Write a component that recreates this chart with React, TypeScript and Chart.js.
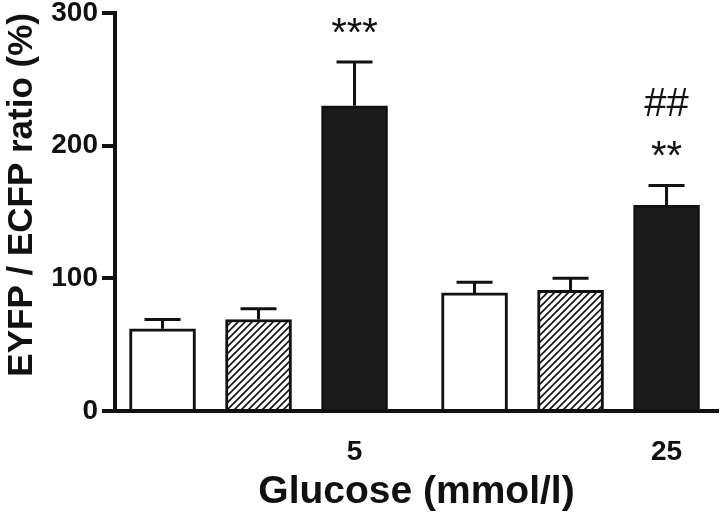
import React, { useEffect, useRef } from "react";
import { Chart, registerables } from "chart.js";

Chart.register(...registerables);

// ---- data ----
const groups = ["5", "25"];
const controlValues = [62, 89];
const controlErrors = [7, 8];
const hatchedValues = [69, 91];
const hatchedErrors = [8, 9];
const blackValues = [230, 155];
const blackErrors = [33, 15];
const blackStars = ["***", "**"];
const blackHashes = ["", "##"];
const yTicks = [0, 100, 200, 300];

// ---- layout / style ----
const GROUP_STRIDE = 3.25; // bar slots between group starts
const FONT = "Arial, 'Liberation Sans', Helvetica, sans-serif";
const INK = "#111111";
const BLACK_FILL = "#1b1b1b";

function makeHatch(): CanvasPattern | string {
  const size = 7;
  const c = document.createElement("canvas");
  c.width = size;
  c.height = size;
  const ctx = c.getContext("2d");
  if (!ctx) return "#ffffff";
  ctx.fillStyle = "#ffffff";
  ctx.fillRect(0, 0, size, size);
  ctx.strokeStyle = INK;
  ctx.lineWidth = 1.6;
  ctx.beginPath();
  ctx.moveTo(-1, size + 1);
  ctx.lineTo(size + 1, -1);
  ctx.moveTo(-2, 2);
  ctx.lineTo(2, -2);
  ctx.moveTo(size - 2, size + 2);
  ctx.lineTo(size + 2, size - 2);
  ctx.stroke();
  return ctx.createPattern(c, "repeat") || "#ffffff";
}

const toPoints = (vals: number[], series: number) =>
  vals.map((v, g) => ({ x: g * GROUP_STRIDE + series, y: v }));

const errorBarPlugin = {
  id: "errorBarsAndMarks",
  afterDatasetsDraw(chart: any) {
    const ctx = chart.ctx as CanvasRenderingContext2D;
    const yScale = chart.scales.y;
    chart.data.datasets.forEach((ds: any, di: number) => {
      const meta = chart.getDatasetMeta(di);
      meta.data.forEach((bar: any, i: number) => {
        const v = ds.data[i].y;
        const e = ds.errors[i];
        const top = yScale.getPixelForValue(v + e);
        const x = bar.x;
        ctx.save();
        ctx.strokeStyle = INK;
        ctx.lineWidth = 3;
        ctx.beginPath();
        ctx.moveTo(x, bar.y);
        ctx.lineTo(x, top);
        ctx.moveTo(x - 18, top);
        ctx.lineTo(x + 18, top);
        ctx.stroke();
        ctx.fillStyle = INK;
        ctx.textAlign = "center";
        ctx.textBaseline = "alphabetic";
        ctx.font = `40px ${FONT}`;
        if (ds.stars && ds.stars[i]) ctx.fillText(ds.stars[i], x, top - 16);
        if (ds.hashes && ds.hashes[i]) ctx.fillText(ds.hashes[i], x, top - 69);
        ctx.restore();
      });
    });
  },
};

export default function App() {
  const ref = useRef<HTMLCanvasElement | null>(null);

  useEffect(() => {
    if (!ref.current) return;
    const hatch = makeHatch();
    const chart = new Chart(ref.current, {
      type: "bar",
      data: {
        datasets: [
          {
            label: "control",
            data: toPoints(controlValues, 0),
            errors: controlErrors,
            backgroundColor: "#ffffff",
          } as any,
          {
            label: "hatched",
            data: toPoints(hatchedValues, 1),
            errors: hatchedErrors,
            backgroundColor: hatch,
          } as any,
          {
            label: "black",
            data: toPoints(blackValues, 2),
            errors: blackErrors,
            stars: blackStars,
            hashes: blackHashes,
            backgroundColor: BLACK_FILL,
          } as any,
        ],
      },
      options: {
        animation: false,
        responsive: false,
        maintainAspectRatio: false,
        devicePixelRatio: 1,
        layout: { padding: { top: 0, right: 2, bottom: 0, left: 0 } },
        datasets: {
          bar: {
            grouped: false,
            barThickness: 66,
            borderWidth: 3,
            borderColor: INK,
          } as any,
        },
        plugins: {
          legend: { display: false },
          tooltip: { enabled: false },
        },
        scales: {
          x: {
            type: "linear",
            offset: false,
            bounds: "data",
            min: -0.495,
            max: 5.786,
            afterBuildTicks: (s: any) => {
              s.ticks = groups.map((_, gi) => ({ value: gi * GROUP_STRIDE + 2 }));
            },
            afterFit: (s: any) => {
              s.height = 105;
              s.paddingLeft = 0;
              s.paddingRight = 0;
            },
            grid: { display: true, drawOnChartArea: false, drawTicks: false, offset: false },
            border: { display: true, color: INK, width: 4 },
            ticks: {
              autoSkip: false,
              maxRotation: 0,
              padding: 24,
              color: INK,
              font: { family: FONT, size: 28, weight: "bold" },
              callback: (value: any) =>
                groups[Math.round((Number(value) - 2) / GROUP_STRIDE)] ?? "",
            },
            title: {
              display: true,
              text: "Glucose (mmol/l)",
              color: INK,
              font: { family: FONT, size: 39, weight: "bold" },
              padding: { top: 0, bottom: 0 },
            },
          } as any,
          y: {
            min: 0,
            max: 300,
            afterBuildTicks: (s: any) => {
              s.ticks = yTicks.map((v) => ({ value: v }));
            },
            afterFit: (s: any) => {
              s.width = 115;
              s.paddingTop = 13;
              s.paddingBottom = 0;
            },
            grid: {
              display: true,
              drawOnChartArea: false,
              drawTicks: true,
              tickLength: 13,
              tickWidth: 4,
              tickColor: INK,
              lineWidth: 4,
              color: INK,
            },
            border: { display: true, color: INK, width: 4 },
            ticks: {
              padding: 4,
              color: INK,
              font: { family: FONT, size: 28, weight: "bold" },
            },
            title: {
              display: true,
              align: "end",
              text: "EYFP / ECFP ratio (%)",
              color: INK,
              font: { family: FONT, size: 35, weight: "bold" },
              padding: { top: 1, bottom: 0 },
            },
          } as any,
        },
      },
      plugins: [errorBarPlugin],
    });
    return () => chart.destroy();
  }, []);

  return (
    <div style={{ position: "absolute", left: 0, top: 0, width: 720, height: 516, background: "#ffffff" }}>
      <canvas ref={ref} width={720} height={516} style={{ display: "block" }} />
    </div>
  );
}
